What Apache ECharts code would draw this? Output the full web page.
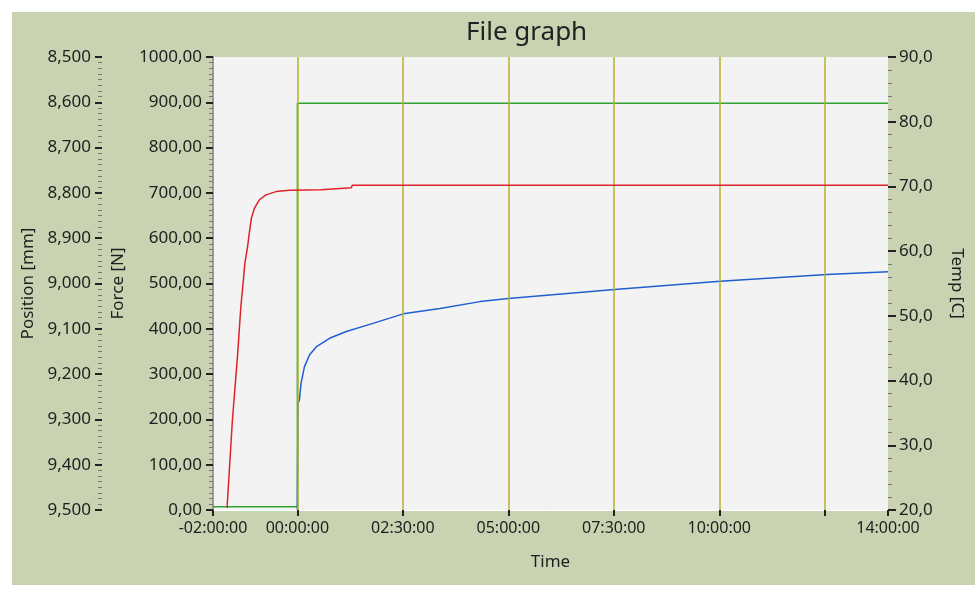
<!DOCTYPE html>
<html>
<head>
<meta charset="utf-8">
<script src="https://cdn.jsdelivr.net/npm/echarts@6/dist/echarts.min.js"></script>
<style>html,body{margin:0;padding:0;background:#fff}#c{width:980px;height:597px}</style>
</head>
<body>
<div id="c"></div>
<script>
// Time in hours
var xTickValues = [-2, 0, 2.5, 5, 7.5, 10, 12.5, 14];
var xLabelValues = [-2, 0, 2.5, 5, 7.5, 10, 14];
var gridLineTimes = [0, 2.5, 5, 7.5, 10, 12.5];

// Force [N] (green)
var forceTime = [-2, 0, 0, 14];
var forceVals = [7, 7, 898, 898];

// Temp [C] (red)
var tempTime = [-1.667, -1.54, -1.42, -1.34, -1.28, -1.245, -1.18, -1.14, -1.09, -1.02, -0.905, -0.745, -0.507, -0.19, 0.56, 0.6, 1.28, 1.3, 14];
var tempVals = [20.3, 33.9, 43.7, 51.4, 55.5, 58.1, 60.7, 62.8, 65.1, 66.6, 67.9, 68.7, 69.2, 69.4, 69.5, 69.8, 69.8, 70.2, 70.2];

// Position [mm] (blue)
var posTime = [0, 0.01, 0.02, 0.048, 0.088, 0.167, 0.286, 0.445, 0.762, 1.16, 1.79, 2.51, 3.38, 4.33, 5.0, 7.52, 10.02, 12.55, 14.0];
var posVals = [9.5, 9.334, 9.264, 9.257, 9.220, 9.184, 9.158, 9.140, 9.121, 9.106, 9.088, 9.067, 9.055, 9.040, 9.033, 9.013, 8.995, 8.980, 8.974];

function zip(a, b) { return a.map(function (v, i) { return [v, b[i]]; }); }
function fmtTime(h) {
  var neg = h < 0; var s = Math.round(Math.abs(h) * 3600);
  var hh = Math.floor(s / 3600), mm = Math.floor((s % 3600) / 60), ss = s % 60;
  function p(n) { return (n < 10 ? '0' : '') + n; }
  return (neg ? '-' : '') + p(hh) + ':' + p(mm) + ':' + p(ss);
}
var FONT = 'Noto Sans';
var lblCol = '#1e1e1e';
var chart = echarts.init(document.getElementById('c'), null, { renderer: 'canvas' });
chart.setOption({
  backgroundColor: '#ffffff',
  animation: false,
  textStyle: { fontFamily: FONT },
  graphic: [{
    type: 'rect', z: -10, silent: true,
    shape: { x: 12, y: 12, width: 963, height: 573 },
    style: { fill: '#c9d3b2' }
  }],
  title: {
    text: 'File graph', left: 461, top: 15,
    textStyle: { fontFamily: FONT, fontSize: 26, fontWeight: 'normal', color: '#222' }
  },
  grid: {
    left: 213, right: 92, top: 57, bottom: 87,
    show: true, backgroundColor: '#f3f3f3', borderWidth: 0
  },
  xAxis: {
    type: 'value', min: -2, max: 14,
    name: 'Time', nameLocation: 'middle', nameGap: 44,
    nameTextStyle: { fontFamily: FONT, fontSize: 17, color: lblCol },
    axisLine: { show: true, onZero: false, lineStyle: { color: '#ffffff', width: 1 } },
    axisTick: { show: true, customValues: xTickValues, length: 6, inside: false, lineStyle: { color: '#222', width: 2 } },
    axisLabel: { customValues: xLabelValues, formatter: fmtTime, fontFamily: FONT, fontSize: 16, color: lblCol, margin: 10 },
    splitLine: { show: false }
  },
  yAxis: [{
    type: 'value', min: 0, max: 1000, interval: 100, position: 'left',
    name: 'Force [N]', nameLocation: 'middle', nameGap: 86, nameRotate: 90,
    nameTextStyle: { fontFamily: FONT, fontSize: 17, color: lblCol },
    axisLine: { show: true, onZero: false, lineStyle: { color: '#9a9a9a', width: 2 } },
    axisTick: { show: true, length: 7, lineStyle: { color: '#222', width: 2 } },
    minorTick: { show: true, splitNumber: 8, length: 4, lineStyle: { color: '#777', width: 1 } },
    axisLabel: { formatter: function (v) { return v.toFixed(2).replace('.', ','); }, fontFamily: FONT, fontSize: 17, color: lblCol, margin: 11 },
    splitLine: { show: false }
  }, {
    type: 'value', min: 8.5, max: 9.5, interval: 0.1, inverse: true, position: 'left', offset: 111,
    name: 'Position [mm]', nameLocation: 'middle', nameGap: 62, nameRotate: 90,
    nameTextStyle: { fontFamily: FONT, fontSize: 17, color: lblCol },
    axisLine: { show: false, onZero: false },
    axisTick: { show: true, length: 7, lineStyle: { color: '#222', width: 2 } },
    minorTick: { show: true, splitNumber: 8, length: 4, lineStyle: { color: '#777', width: 1 } },
    axisLabel: { formatter: function (v) { return v.toFixed(3).replace('.', ','); }, fontFamily: FONT, fontSize: 17, color: lblCol, margin: 11 },
    splitLine: { show: false }
  }, {
    type: 'value', min: 20, max: 90, interval: 10, position: 'right',
    name: 'Temp [C]', nameLocation: 'middle', nameGap: 60, nameRotate: -90,
    nameTextStyle: { fontFamily: FONT, fontSize: 17, color: lblCol },
    axisLine: { show: false, onZero: false },
    axisTick: { show: true, length: 8, lineStyle: { color: '#222', width: 2 } },
    minorTick: { show: true, splitNumber: 5, length: 4, lineStyle: { color: '#777', width: 1 } },
    axisLabel: { formatter: function (v) { return v.toFixed(1).replace('.', ','); }, fontFamily: FONT, fontSize: 17, color: lblCol, margin: 11 },
    splitLine: { show: false }
  }],
  series: [{
    type: 'line', data: [], z: 1, silent: true,
    markLine: {
      silent: true, symbol: 'none', label: { show: false },
      lineStyle: { color: '#b7b22e', width: 1.5, type: 'solid' },
      data: gridLineTimes.map(function (t) { return { xAxis: t }; })
    }
  }, {
    name: 'Force', type: 'line', yAxisIndex: 0, z: 3, showSymbol: false, symbol: 'none',
    data: zip(forceTime, forceVals), lineStyle: { color: '#2fa22f', width: 1.5 }
  }, {
    name: 'Position', type: 'line', yAxisIndex: 1, z: 4, showSymbol: false, symbol: 'none',
    data: zip(posTime, posVals), lineStyle: { color: '#1f5fd0', width: 1.5 }
  }, {
    name: 'Temp', type: 'line', yAxisIndex: 2, z: 5, showSymbol: false, symbol: 'none',
    data: zip(tempTime, tempVals), lineStyle: { color: '#e02128', width: 1.5 }
  }]
});
</script>
</body>
</html>
